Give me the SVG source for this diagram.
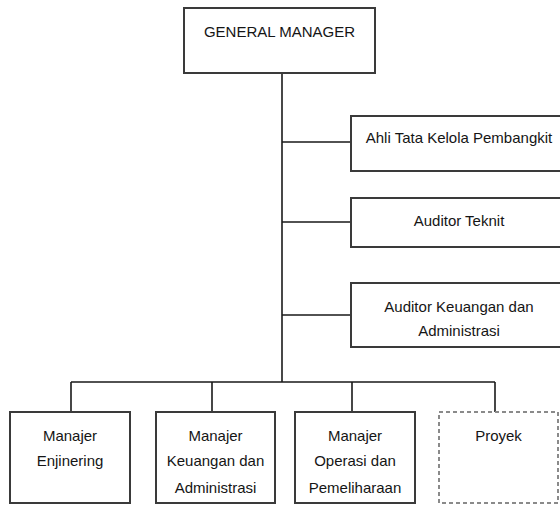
<svg xmlns="http://www.w3.org/2000/svg" width="560" height="505" viewBox="0 0 560 505">
<style>
.box{fill:#fff;stroke:#3a3a3a;stroke-width:2}
.dash{fill:#fff;stroke:#8a8a8a;stroke-width:2;stroke-dasharray:4 3}
.conn{fill:none;stroke:#1a1a1a;stroke-width:1.6}
text{font-family:"Liberation Sans",Arial,sans-serif;font-size:15px;fill:#151515;text-anchor:middle}
</style>
<rect width="560" height="505" fill="#fff"/>
<g id="connectors">
<path class="conn" d="M282 73 V382"/>
<path class="conn" d="M282 142 H351 M282 222 H351 M282 315 H351"/>
<path class="conn" d="M71 382 H495 M71 382 V412 M212 382 V412 M352 382 V412 M495 382 V412"/>
</g>
<g id="general-manager">
<rect class="box" x="184" y="8" width="191" height="65"/>
<text x="279.5" y="37">GENERAL MANAGER</text>
</g>
<g id="ahli-tata-kelola">
<rect class="box" x="351" y="116" width="220" height="55"/>
<text x="459" y="143">Ahli Tata Kelola Pembangkit</text>
</g>
<g id="auditor-teknit">
<rect class="box" x="351" y="198" width="220" height="49"/>
<text x="459" y="226">Auditor Teknit</text>
</g>
<g id="auditor-keuangan">
<rect class="box" x="351" y="283" width="220" height="64"/>
<text x="459" y="312">Auditor Keuangan dan</text>
<text x="459" y="336">Administrasi</text>
</g>
<g id="manajer-enjinering">
<rect class="box" x="10" y="412" width="120" height="91"/>
<text x="70" y="441">Manajer</text>
<text x="70" y="466">Enjinering</text>
</g>
<g id="manajer-keuangan">
<rect class="box" x="156" y="412" width="119" height="91"/>
<text x="215.5" y="441">Manajer</text>
<text x="215.5" y="466">Keuangan dan</text>
<text x="215.5" y="493">Administrasi</text>
</g>
<g id="manajer-operasi">
<rect class="box" x="295" y="412" width="120" height="91"/>
<text x="355" y="441">Manajer</text>
<text x="355" y="466">Operasi dan</text>
<text x="355" y="493">Pemeliharaan</text>
</g>
<g id="proyek">
<rect class="dash" x="439" y="412" width="119" height="91"/>
<text x="498.5" y="441">Proyek</text>
</g>
</svg>
